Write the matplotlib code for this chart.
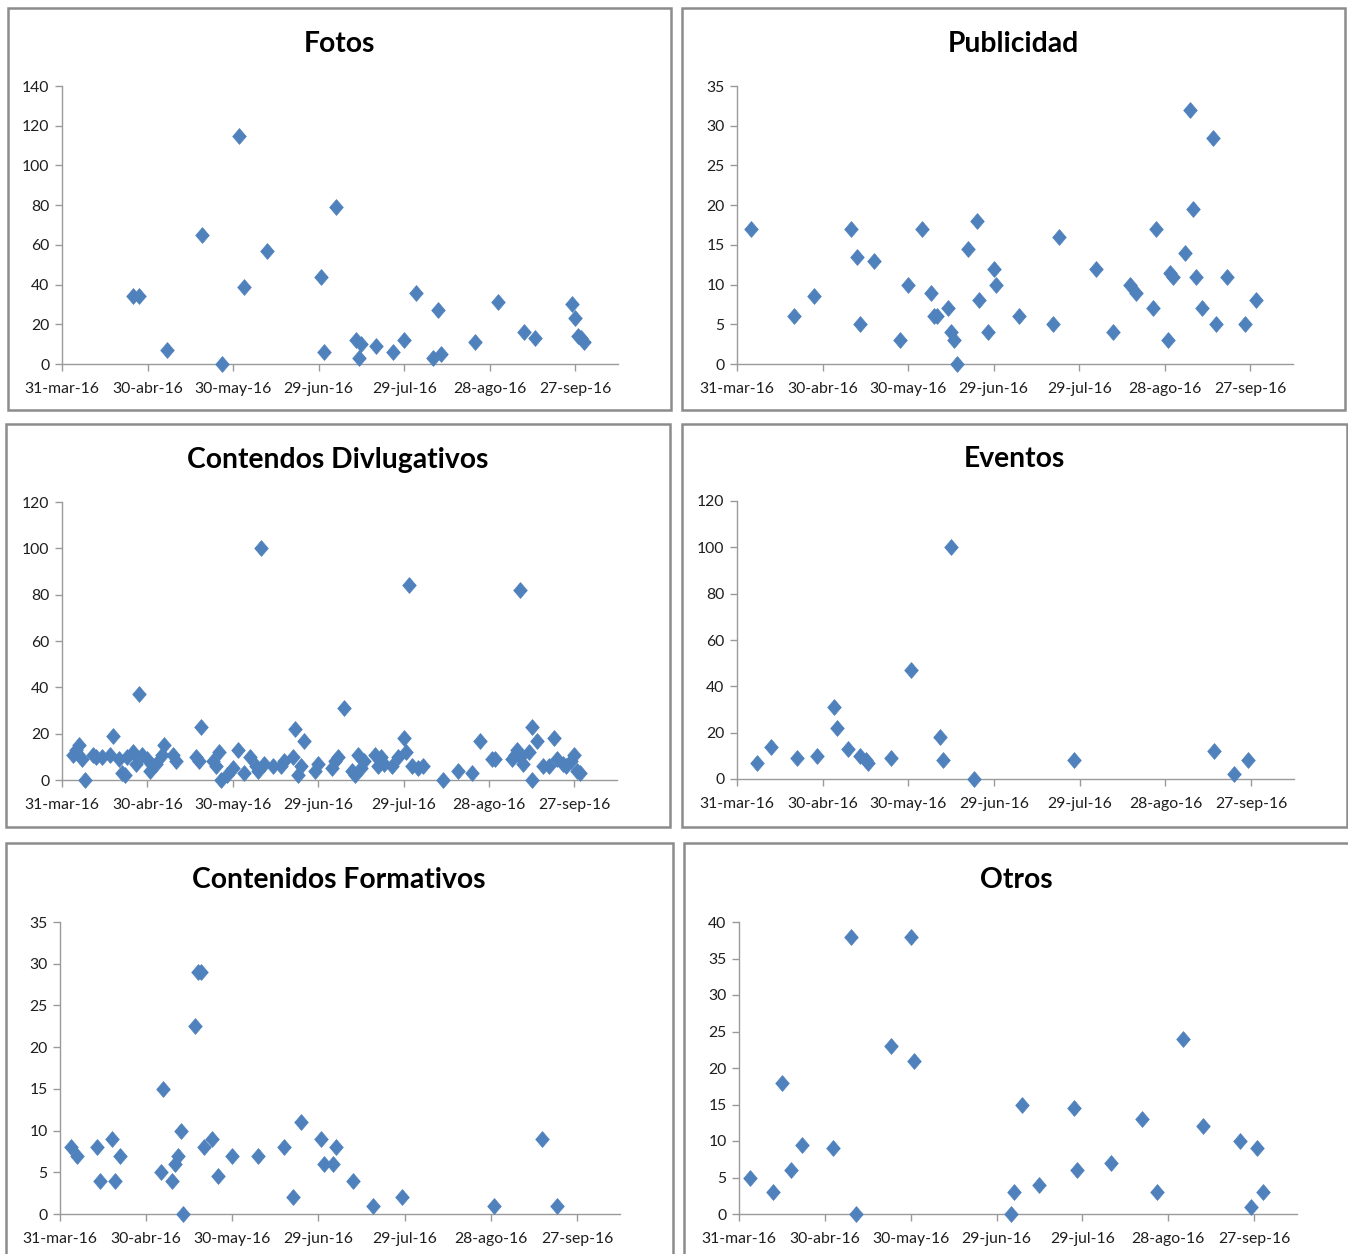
import matplotlib
matplotlib.use("Agg")
import matplotlib.pyplot as plt
from matplotlib.patches import Rectangle
from matplotlib.path import Path
import pandas as pd

plt.rcParams["font.family"] = ["Lato", "DejaVu Sans"]

# ---------------------------------------------------------------- data
tick_dates = ["2016-03-31", "2016-04-30", "2016-05-30", "2016-06-29",
              "2016-07-29", "2016-08-28", "2016-09-27"]
tick_labels = ["31-mar-16", "30-abr-16", "30-may-16", "29-jun-16",
               "29-jul-16", "28-ago-16", "27-sep-16"]
x_start, x_end = "2016-03-31", "2016-10-12"

fotos_fechas = ["2016-04-25", "2016-04-27", "2016-05-07", "2016-05-19", "2016-05-26",
                "2016-06-01", "2016-06-03", "2016-06-11", "2016-06-30", "2016-07-01",
                "2016-07-05", "2016-07-12", "2016-07-13", "2016-07-14", "2016-07-19",
                "2016-07-25", "2016-07-29", "2016-08-02", "2016-08-08", "2016-08-10",
                "2016-08-11", "2016-08-23", "2016-08-31", "2016-09-09", "2016-09-13",
                "2016-09-26", "2016-09-27", "2016-09-28", "2016-09-29", "2016-09-30"]
fotos_valores = [34, 34, 7, 65, 0, 115, 39, 57, 44, 6, 79, 12, 3, 10, 9,
                 6, 12, 36, 3, 27, 5, 11, 31, 16, 13, 30, 23, 14, 13, 11]

publicidad_fechas = ["2016-04-05", "2016-04-20", "2016-04-27", "2016-05-10", "2016-05-12",
                     "2016-05-13", "2016-05-18", "2016-05-27", "2016-05-30", "2016-06-04",
                     "2016-06-07", "2016-06-08", "2016-06-09", "2016-06-13", "2016-06-14",
                     "2016-06-15", "2016-06-16", "2016-06-20", "2016-06-23", "2016-06-24",
                     "2016-06-27", "2016-06-29", "2016-06-30", "2016-07-08", "2016-07-20",
                     "2016-07-22", "2016-08-04", "2016-08-10", "2016-08-16", "2016-08-18",
                     "2016-08-24", "2016-08-25", "2016-08-29", "2016-08-30", "2016-08-31",
                     "2016-09-04", "2016-09-06", "2016-09-07", "2016-09-08", "2016-09-10",
                     "2016-09-14", "2016-09-15", "2016-09-19", "2016-09-25", "2016-09-29"]
publicidad_valores = [17, 6, 8.5, 17, 13.5, 5, 13, 3, 10, 17,
                      9, 6, 6, 7, 4, 3, 0, 14.5, 18, 8,
                      4, 12, 10, 6, 5, 16, 12, 4, 10, 9,
                      7, 17, 3, 11.5, 11, 14, 32, 19.5, 11, 7,
                      28.5, 5, 11, 5, 8]

divulgativos_fechas = ["2016-04-04", "2016-04-05", "2016-04-06", "2016-04-07", "2016-04-08",
                       "2016-04-11", "2016-04-12", "2016-04-14", "2016-04-17", "2016-04-18",
                       "2016-04-20", "2016-04-21", "2016-04-22", "2016-04-23", "2016-04-25",
                       "2016-04-26", "2016-04-27", "2016-04-28", "2016-04-30", "2016-05-01",
                       "2016-05-03", "2016-05-05", "2016-05-06", "2016-05-09", "2016-05-10",
                       "2016-05-17", "2016-05-18", "2016-05-19", "2016-05-23", "2016-05-24",
                       "2016-05-25", "2016-05-26", "2016-05-28", "2016-05-30", "2016-06-01",
                       "2016-06-03", "2016-06-05", "2016-06-07", "2016-06-08", "2016-06-09",
                       "2016-06-10", "2016-06-13", "2016-06-16", "2016-06-17", "2016-06-20",
                       "2016-06-21", "2016-06-22", "2016-06-23", "2016-06-24", "2016-06-28",
                       "2016-06-29", "2016-07-04", "2016-07-05", "2016-07-06", "2016-07-08",
                       "2016-07-11", "2016-07-12", "2016-07-13", "2016-07-14", "2016-07-15",
                       "2016-07-19", "2016-07-20", "2016-07-21", "2016-07-22", "2016-07-25",
                       "2016-07-27", "2016-07-29", "2016-07-30", "2016-07-31", "2016-08-01",
                       "2016-08-03", "2016-08-05", "2016-08-12", "2016-08-17", "2016-08-22",
                       "2016-08-25", "2016-08-29", "2016-08-30", "2016-09-05", "2016-09-06",
                       "2016-09-07", "2016-09-08", "2016-09-08", "2016-09-09", "2016-09-11",
                       "2016-09-12", "2016-09-12", "2016-09-14", "2016-09-16", "2016-09-18",
                       "2016-09-20", "2016-09-21", "2016-09-23", "2016-09-24", "2016-09-26",
                       "2016-09-27", "2016-09-28", "2016-09-29"]
divulgativos_valores = [11, 13, 15, 9, 0, 11, 10, 10, 11, 19,
                        9, 3, 2, 10, 12, 7, 37, 11, 9, 4,
                        7, 11, 15, 11, 8, 10, 8, 23, 8, 6,
                        12, 0, 2, 5, 13, 3, 10, 6, 4, 100,
                        7, 6, 6, 8, 10, 22, 2, 6, 17, 4,
                        7, 5, 8, 10, 31, 4, 2, 11, 5, 8,
                        11, 6, 10, 7, 6, 10, 18, 12, 84, 6,
                        5, 6, 0, 4, 3, 17, 9, 9, 9, 11,
                        13, 10, 82, 7, 12, 23, 0, 17, 6, 6,
                        18, 9, 7, 6, 8, 11, 4, 3]

eventos_fechas = ["2016-04-07", "2016-04-12", "2016-04-21", "2016-04-28", "2016-05-04",
                  "2016-05-05", "2016-05-09", "2016-05-13", "2016-05-15", "2016-05-16",
                  "2016-05-24", "2016-05-31", "2016-06-10", "2016-06-11", "2016-06-14",
                  "2016-06-22", "2016-07-27", "2016-09-14", "2016-09-21", "2016-09-26"]
eventos_valores = [7, 14, 9, 10, 31, 22, 13, 10, 8, 7,
                   9, 47, 18, 8, 100, 0, 8, 12, 2, 8]

formativos_fechas = ["2016-04-04", "2016-04-06", "2016-04-13", "2016-04-14", "2016-04-18",
                     "2016-04-19", "2016-04-21", "2016-05-05", "2016-05-06", "2016-05-09",
                     "2016-05-10", "2016-05-11", "2016-05-12", "2016-05-13", "2016-05-17",
                     "2016-05-18", "2016-05-19", "2016-05-20", "2016-05-23", "2016-05-25",
                     "2016-05-30", "2016-06-08", "2016-06-17", "2016-06-20", "2016-06-23",
                     "2016-06-30", "2016-07-01", "2016-07-04", "2016-07-05", "2016-07-11",
                     "2016-07-18", "2016-07-28", "2016-08-29", "2016-09-15", "2016-09-20"]
formativos_valores = [8, 7, 8, 4, 9, 4, 7, 5, 15, 4,
                      6, 7, 10, 0, 22.5, 29, 29, 8, 9, 4.5,
                      7, 7, 8, 2, 11, 9, 6, 6, 8, 4,
                      1, 2, 1, 9, 1]

otros_fechas = ["2016-04-04", "2016-04-12", "2016-04-15", "2016-04-18", "2016-04-22",
                "2016-05-03", "2016-05-09", "2016-05-11", "2016-05-23", "2016-05-30",
                "2016-05-31", "2016-07-04", "2016-07-05", "2016-07-08", "2016-07-14",
                "2016-07-26", "2016-07-27", "2016-08-08", "2016-08-19", "2016-08-24",
                "2016-09-02", "2016-09-09", "2016-09-22", "2016-09-26", "2016-09-28",
                "2016-09-30"]
otros_valores = [5, 3, 18, 6, 9.5, 9, 38, 0, 23, 38,
                 21, 0, 3, 15, 4, 14.5, 6, 7, 13, 3,
                 24, 12, 10, 1, 9, 3]

# ---------------------------------------------------------------- layout
W, H = 1348, 1254
fig = plt.figure(figsize=(W / 100, H / 100), dpi=100)
fig.patch.set_facecolor("white")

MARKER_COLOR = "#4F81BD"
AXIS_COLOR = "#9a9a9a"
TEXT_COLOR = "#1e1e1e"

# slightly tall diamond marker
DIAMOND = Path([(0, 1), (0.86, 0), (0, -1), (-0.86, 0), (0, 1)],
               [Path.MOVETO, Path.LINETO, Path.LINETO, Path.LINETO, Path.CLOSEPOLY])

# (title, dates, values, y max, y step, frame box, axes box, title centre)
panels = [
    ("Fotos", fotos_fechas, fotos_valores, 140, 20,
     (8, 8, 671, 410), (62, 86, 618, 364), (339, 44)),
    ("Publicidad", publicidad_fechas, publicidad_valores, 35, 5,
     (682, 8, 1345, 410), (737, 86, 1293, 364), (1013, 44)),
    ("Contendos Divlugativos", divulgativos_fechas, divulgativos_valores, 120, 20,
     (6, 424, 670, 827), (62, 502, 617, 780), (338, 460)),
    ("Eventos", eventos_fechas, eventos_valores, 120, 20,
     (682, 424, 1347, 827), (737, 501, 1294, 779), (1014, 459)),
    ("Contenidos Formativos", formativos_fechas, formativos_valores, 35, 5,
     (6, 843, 673, 1270), (60, 922, 620, 1214), (339, 880)),
    ("Otros", otros_fechas, otros_valores, 40, 5,
     (684, 843, 1352, 1270), (739, 922, 1297, 1214), (1016, 880)),
]

tick_pos = pd.to_datetime(tick_dates)

for title, fechas, valores, ymax, ystep, frame, box, tpos in panels:
    x0, y0, x1, y1 = frame
    fig.patches.append(Rectangle((x0 / W, 1 - y1 / H), (x1 - x0) / W, (y1 - y0) / H,
                                 transform=fig.transFigure, fill=False,
                                 edgecolor="#8c8c8c", linewidth=1.8, zorder=0))

    left, top, right, bottom = box
    ax = fig.add_axes([left / W, 1 - bottom / H, (right - left) / W, (bottom - top) / H])
    ax.scatter(pd.to_datetime(fechas), valores, marker=DIAMOND, s=130,
               color=MARKER_COLOR, edgecolors=MARKER_COLOR, linewidths=0.5,
               zorder=3, clip_on=False)

    ax.set_xlim(pd.Timestamp(x_start), pd.Timestamp(x_end))
    ax.set_ylim(0, ymax)
    ax.set_xticks(tick_pos)
    ax.set_xticklabels(tick_labels)
    ax.set_yticks(range(0, ymax + 1, ystep))

    for side in ("top", "right"):
        ax.spines[side].set_visible(False)
    for side in ("left", "bottom"):
        ax.spines[side].set_color(AXIS_COLOR)
        ax.spines[side].set_linewidth(1.0)
    ax.tick_params(axis="both", direction="out", length=5, width=1.0,
                   color=AXIS_COLOR, labelsize=11.3, labelcolor=TEXT_COLOR)
    ax.tick_params(axis="x", pad=8)
    ax.tick_params(axis="y", pad=4)
    ax.patch.set_alpha(0)

    fig.text(tpos[0] / W, 1 - tpos[1] / H, title, ha="center", va="center",
             fontsize=20.3, fontweight="bold", color="black")

fig.savefig("out.png", dpi=100, facecolor="white")
